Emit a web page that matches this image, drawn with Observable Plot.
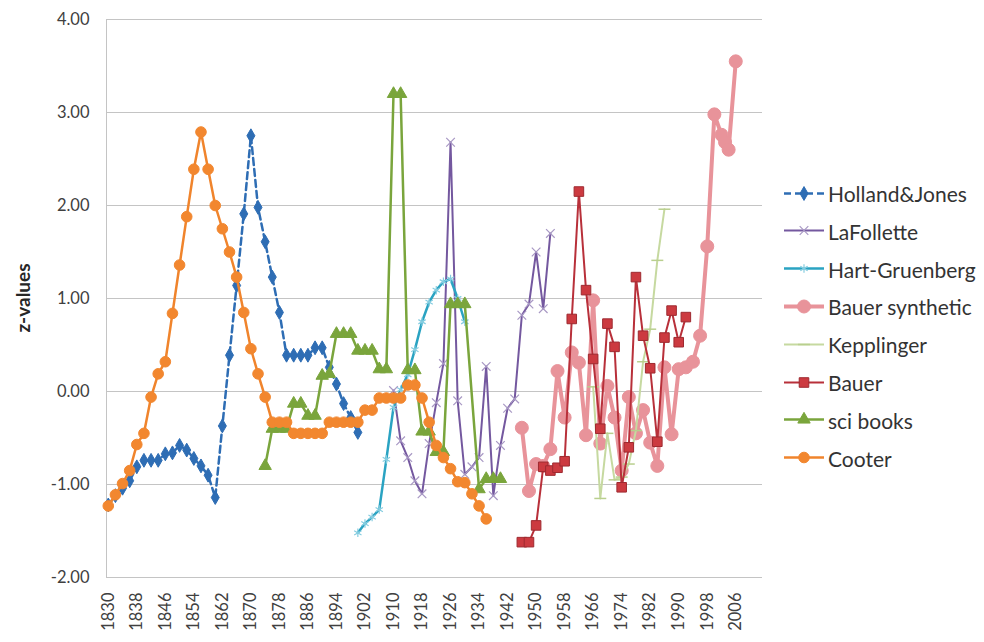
<!DOCTYPE html>
<html><head><meta charset="utf-8">
<script src="https://cdn.jsdelivr.net/npm/d3@7"></script>
<script src="https://cdn.jsdelivr.net/npm/@observablehq/plot@0.6"></script>
<style>
html,body{margin:0;padding:0;background:#fff;}
#wrap{position:relative;width:984px;height:642px;overflow:hidden;font-family:Lato,"Open Sans",sans-serif;}
#ytitle{position:absolute;left:22px;top:298px;transform:translate(-50%,-50%) rotate(-90deg);font-weight:bold;font-size:19px;color:#262626;white-space:nowrap;}
#legend{position:absolute;left:782px;top:0;}
.item{position:absolute;left:0;display:flex;align-items:center;white-space:nowrap;font-size:21px;color:#333;transform:translateY(-50%);}
.item svg{margin-right:2px;}
</style></head><body>
<div id="wrap"><div id="chart"></div><div id="ytitle">z-values</div><div id="legend"></div></div>
<script>
// ---- categories / ticks ----
const xTicks = [1830,1838,1846,1854,1862,1870,1878,1886,1894,1902,1910,1918,1926,1934,1942,1950,1958,1966,1974,1982,1990,1998,2006];
const yTicks = [-2,-1,0,1,2,3,4];

// ---- series data ----
const hjYears = [1830,1832,1834,1836,1838,1840,1842,1844,1846,1848,1850,1852,1854,1856,1858,1860,1862,1864,1866,1868,1870,1872,1874,1876,1878,1880,1882,1884,1886,1888,1890,1892,1894,1896,1898,1900];
const hjValues = [-1.22,-1.12,-1.04,-0.96,-0.81,-0.74,-0.74,-0.74,-0.67,-0.66,-0.58,-0.63,-0.72,-0.80,-0.90,-1.14,-0.37,0.39,1.14,1.91,2.75,1.98,1.61,1.23,0.85,0.39,0.39,0.39,0.39,0.47,0.47,0.26,0.08,-0.13,-0.28,-0.44];

const lfYears = [1910,1912,1914,1916,1918,1920,1922,1924,1926,1928,1930,1932,1934,1936,1938,1940,1942,1944,1946,1948,1950,1952,1954];
const lfValues = [0.01,-0.53,-0.71,-0.96,-1.10,-0.56,-0.12,0.30,2.68,-0.10,-0.89,-0.81,-0.71,0.27,-1.12,-0.58,-0.18,-0.08,0.82,0.94,1.50,0.89,1.70];

const hgYears = [1900,1902,1904,1906,1908,1910,1912,1914,1916,1918,1920,1922,1924,1926,1928,1930];
const hgValues = [-1.52,-1.42,-1.35,-1.27,-0.73,-0.17,0.02,0.18,0.45,0.75,0.96,1.09,1.18,1.21,1.00,0.75];

const bsYears = [1946,1948,1950,1952,1954,1956,1958,1960,1962,1964,1966,1968,1970,1972,1974,1976,1978,1980,1982,1984,1986,1988,1990,1992,1994,1996,1998,2000,2002,2003,2004,2006];
const bsValues = [-0.39,-1.07,-0.78,-0.80,-0.62,0.22,-0.28,0.42,0.31,-0.47,0.98,-0.56,0.06,-0.28,-0.85,-0.06,-0.45,-0.20,-0.55,-0.80,0.26,-0.46,0.24,0.26,0.32,0.60,1.56,2.98,2.76,2.68,2.60,3.55];

const kpYears = [1966,1968,1970,1972,1974,1976,1978,1980,1982,1984,1986];
const kpValues = [0.05,-1.15,-0.45,-0.95,-0.92,-0.78,-0.42,0.32,0.67,1.41,1.96];

const baYears = [1946,1948,1950,1952,1954,1956,1958,1960,1962,1964,1966,1968,1970,1972,1974,1976,1978,1980,1982,1984,1986,1988,1990,1992];
const baValues = [-1.62,-1.62,-1.44,-0.81,-0.85,-0.82,-0.75,0.78,2.15,1.09,0.35,-0.40,0.73,0.48,-1.03,-0.60,1.23,0.60,0.25,-0.54,0.58,0.87,0.53,0.80];

const sbYears = [1874,1876,1878,1880,1882,1884,1886,1888,1890,1892,1894,1896,1898,1900,1902,1904,1906,1908,1910,1912,1914,1916,1918,1920,1922,1924,1926,1928,1930,1934,1936,1938,1940];
const sbValues = [-0.80,-0.40,-0.40,-0.40,-0.13,-0.13,-0.26,-0.26,0.17,0.19,0.62,0.62,0.62,0.44,0.44,0.44,0.24,0.24,3.20,3.20,0.23,0.23,-0.43,-0.43,-0.65,-0.65,0.94,0.94,0.94,-1.05,-0.94,-0.94,-0.94];

const coYears = [1830,1832,1834,1836,1838,1840,1842,1844,1846,1848,1850,1852,1854,1856,1858,1860,1862,1864,1866,1868,1870,1872,1874,1876,1878,1880,1882,1884,1886,1888,1890,1892,1894,1896,1898,1900,1902,1904,1906,1908,1910,1912,1914,1916,1918,1920,1922,1924,1926,1928,1930,1932,1934,1936];
const coValues = [-1.23,-1.11,-0.99,-0.85,-0.57,-0.45,-0.06,0.19,0.32,0.84,1.36,1.88,2.39,2.79,2.39,2.00,1.75,1.50,1.23,0.85,0.46,0.19,-0.06,-0.33,-0.33,-0.33,-0.45,-0.45,-0.45,-0.45,-0.45,-0.33,-0.33,-0.33,-0.33,-0.33,-0.20,-0.20,-0.07,-0.07,-0.07,-0.07,0.07,0.07,-0.07,-0.33,-0.58,-0.71,-0.83,-0.97,-0.98,-1.10,-1.23,-1.37];

// ---- styles ----
const dashSymbol = {draw(context, size) { const w = Math.sqrt(size) * 0.75; context.moveTo(-w, 0); context.lineTo(w, 0); }};

const seriesDefs = [
  {name:"Holland&Jones", years:hjYears, values:hjValues, color:"#2e6db4", width:2.5, dash:"7,4", symbol:"diamond", r:4.2, fill:"#2e6db4", mstroke:"#2e6db4", msw:1},
  {name:"LaFollette", years:lfYears, values:lfValues, color:"#74589f", width:2, dash:null, symbol:"times", r:4, fill:"none", mstroke:"#a898c4", msw:1.2},
  {name:"Hart-Gruenberg", years:hgYears, values:hgValues, color:"#2aa3c2", width:2.5, dash:null, symbol:"asterisk", r:4, fill:"none", mstroke:"#86cde0", msw:1.2},
  {name:"Bauer synthetic", years:bsYears, values:bsValues, color:"#e8939a", width:4, dash:null, symbol:"circle", r:6.5, fill:"#e8939a", mstroke:"#e8939a", msw:1},
  {name:"Kepplinger", years:kpYears, values:kpValues, color:"#c6d9a0", width:2, dash:null, symbol:dashSymbol, r:4.5, fill:"none", mstroke:"#b9cf8e", msw:1.5},
  {name:"Bauer", years:baYears, values:baValues, color:"#b8303a", width:2, dash:null, symbol:"square", r:5.4, fill:"#cc3a40", mstroke:"#9e2a30", msw:1},
  {name:"sci books", years:sbYears, values:sbValues, color:"#7aa53c", width:2.5, dash:null, symbol:"triangle", r:4.6, fill:"#7aa53c", mstroke:"#7aa53c", msw:1},
  {name:"Cooter", years:coYears, values:coValues, color:"#f0842c", width:2.5, dash:null, symbol:"circle", r:5.3, fill:"#f2872f", mstroke:"#f2872f", msw:1}
];

const marks = [
  Plot.gridY(yTicks, {stroke:"#c4c4c4", strokeOpacity:1, strokeWidth:1}),
  Plot.ruleX([1829.5], {stroke:"#c4c4c4", strokeWidth:1}),
  Plot.axisY(yTicks, {tickSize:0, tickPadding:17, tickFormat:d => d.toFixed(2), label:null}),
  Plot.axisX(xTicks, {tickSize:0, tickPadding:15, tickRotate:-90, tickFormat:d => String(d), label:null})
];
for (const s of seriesDefs) {
  const d = s.years.map((yr, i) => ({year: yr, value: s.values[i]}));
  marks.push(Plot.line(d, {x:"year", y:"value", stroke:s.color, strokeWidth:s.width, strokeDasharray:s.dash || undefined, strokeLinejoin:"round"}));
  marks.push(Plot.dot(d, {x:"year", y:"value", symbol:s.symbol, r:s.r, fill:s.fill, stroke:s.mstroke, strokeWidth:s.msw}));
}

const chart = Plot.plot({
  width: 984, height: 642,
  marginLeft: 106, marginRight: 222, marginTop: 19, marginBottom: 65,
  style: {fontFamily: "Lato, 'Open Sans', sans-serif", fontSize: "16.5px", color: "#404040", background: "white", overflow: "visible"},
  x: {type: "linear", domain: [1829.5, 2013.5]},
  y: {domain: [-2, 4]},
  marks
});
document.getElementById("chart").appendChild(chart);

// ---- legend ----
const legend = document.getElementById("legend");
seriesDefs.forEach((s, i) => {
  const item = document.createElement("div");
  item.className = "item";
  item.style.top = (193 + i * 37.8) + "px";
  const sym = typeof s.symbol === "string"
    ? {circle:d3.symbolCircle, diamond:d3.symbolDiamond, times:d3.symbolTimes, asterisk:d3.symbolAsterisk, square:d3.symbolSquare, triangle:d3.symbolTriangle}[s.symbol]
    : s.symbol;
  const path = d3.symbol(sym, s.r * s.r * Math.PI)();
  const dash = s.dash ? `stroke-dasharray="${s.dash}"` : "";
  item.innerHTML = `<svg width="44" height="22" viewBox="0 0 44 22"><line x1="2" x2="42" y1="11" y2="11" stroke="${s.color}" stroke-width="${s.width}" ${dash}/><path transform="translate(22,11)" d="${path}" fill="${s.fill}" stroke="${s.mstroke}" stroke-width="${s.msw}"/></svg><span>${s.name.replace("&","&amp;")}</span>`;
  legend.appendChild(item);
});
</script></body></html>
